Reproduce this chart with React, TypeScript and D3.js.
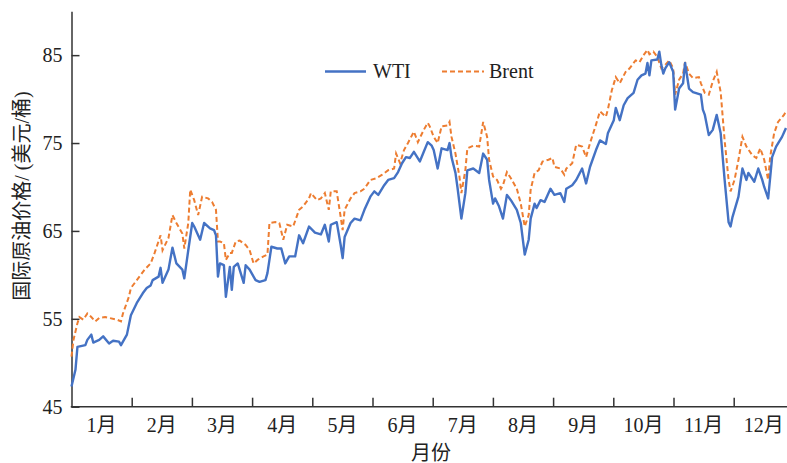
import React, { useEffect, useRef } from 'react';
import * as d3 from 'd3';

// month labels along the x axis
const months = ['1月', '2月', '3月', '4月', '5月', '6月', '7月', '8月', '9月', '10月', '11月', '12月'];
const yTicks = [45, 55, 65, 75, 85];

// WTI: day of year / price (USD per barrel)
const wtiDays = [0, 2, 3, 7, 8, 10, 11, 14, 16, 19, 21, 24, 25, 28, 30, 33, 36, 38, 40, 41, 44, 45, 46, 49, 51, 53, 56, 57, 59, 61,
  62, 65, 67, 70, 72, 73, 74, 75, 77, 78, 80, 81, 82, 84, 87, 88, 90, 93, 95, 98, 99, 101, 104, 106, 108, 110, 113, 115, 117, 120,
  123, 126, 128, 130, 131, 134, 136, 137, 138, 141, 143, 146, 148, 151, 153, 155, 158, 160, 163, 165, 167, 169, 171, 173, 176, 178,
  180, 182, 183, 185, 187, 190, 191, 192, 194, 195, 197, 199, 200, 203, 206, 208, 210, 211, 213, 214, 216, 218, 220, 222, 225, 227,
  229, 231, 232, 234, 235, 237, 239, 242, 244, 247, 249, 250, 253, 255, 258, 260, 262, 265, 267, 270, 271, 274, 275, 277, 279, 281,
  284, 286, 288, 290, 291, 292, 293, 296, 297, 298, 299, 300, 302, 304, 305, 307, 309, 310, 312, 314, 318, 319, 320, 322, 324, 326,
  328, 330, 332, 333, 334, 337, 339, 341, 342, 345, 347, 349, 350, 352, 354, 356, 359, 361];
const wtiPrice = [47.3, 49.2, 51.8, 52.0, 52.6, 53.2, 52.3, 52.6, 53.0, 52.2, 52.5, 52.4, 52.0, 53.2, 55.4, 56.8, 57.9, 58.5, 58.8, 59.4,
  59.8, 60.8, 59.1, 60.6, 63.1, 61.3, 60.6, 59.6, 62.8, 65.9, 65.5, 64.0, 65.9, 65.3, 65.1, 64.5, 59.8, 61.3, 61.1, 57.5,
  60.9, 58.3, 60.9, 61.3, 59.1, 61.1, 60.6, 59.4, 59.2, 59.4, 60.2, 63.2, 63.0, 63.0, 61.3, 62.1, 62.1, 64.5, 63.6, 65.5,
  64.8, 64.6, 65.7, 63.8, 65.7, 66.0, 63.4, 61.9, 64.3, 65.9, 66.4, 66.2, 67.4, 68.9, 69.5, 69.1, 70.2, 70.8, 71.0, 71.7,
  72.7, 73.4, 73.3, 74.0, 72.9, 74.0, 75.1, 74.7, 74.2, 72.1, 74.4, 74.2, 75.0, 73.4, 71.6, 70.0, 66.4, 69.3, 71.9, 72.1,
  71.6, 73.8, 73.1, 70.8, 68.1, 68.7, 67.8, 66.4, 69.1, 68.5, 67.4, 65.9, 62.3, 64.0, 66.4, 68.1, 67.6, 68.5, 68.3, 69.8,
  69.1, 69.3, 68.3, 69.8, 70.2, 70.8, 72.1, 70.4, 72.3, 74.2, 75.3, 74.9, 76.1, 77.6, 79.0, 77.6, 79.3, 80.1, 80.7, 82.2,
  82.7, 82.9, 84.1, 82.7, 84.4, 84.5, 85.4, 83.9, 82.9, 83.5, 84.2, 83.1, 78.8, 81.2, 81.8, 84.1, 81.2, 80.8, 80.5, 78.8,
  78.2, 75.9, 76.5, 78.2, 76.1, 70.8, 66.0, 65.5, 66.6, 68.9, 72.1, 70.8, 71.6, 70.6, 72.1, 70.8, 70.0, 68.7, 73.4, 74.6,
  75.7, 76.7];

// Brent
const brentDays = [0, 1, 3, 4, 6, 8, 10, 12, 14, 17, 19, 23, 25, 26, 29, 30, 33, 35, 37, 40, 42, 45, 46, 49, 51, 53, 56, 57, 59, 60,
  62, 64, 66, 69, 71, 73, 74, 75, 77, 78, 80, 81, 83, 85, 88, 90, 92, 94, 97, 99, 100, 103, 105, 107, 109, 112, 115, 117, 120, 121,
  124, 126, 128, 130, 131, 134, 136, 137, 138, 141, 143, 146, 148, 151, 154, 157, 160, 163, 164, 166, 168, 170, 173, 175, 178, 180,
  181, 183, 185, 187, 190, 191, 192, 194, 196, 197, 199, 200, 203, 206, 208, 210, 211, 213, 215, 217, 218, 220, 222, 225, 227, 229,
  231, 232, 234, 236, 238, 241, 243, 244, 247, 249, 250, 253, 255, 258, 260, 262, 265, 267, 270, 271, 273, 275, 277, 280, 282, 285,
  287, 289, 291, 292, 294, 296, 298, 300, 302, 304, 305, 307, 309, 310, 312, 314, 317, 318, 320, 322, 324, 326, 328, 330, 332, 333,
  335, 337, 339, 341, 344, 346, 348, 350, 352, 353, 355, 357, 360, 361];
const brentPrice = [50.7, 52.6, 54.5, 55.2, 54.9, 55.6, 55.2, 54.7, 55.1, 55.2, 55.1, 54.9, 54.7, 55.6, 57.5, 58.5, 59.4, 60.0, 60.6, 61.3,
  62.5, 64.5, 62.8, 64.2, 66.8, 65.9, 64.7, 63.0, 65.9, 69.7, 68.5, 66.8, 68.9, 68.7, 68.3, 67.4, 63.8, 63.8, 63.6, 61.7,
  62.5, 62.5, 63.8, 63.9, 63.4, 62.8, 61.3, 61.7, 62.1, 62.3, 65.9, 66.0, 65.9, 64.0, 65.7, 65.5, 67.4, 67.8, 68.7, 69.3,
  68.5, 68.7, 69.3, 67.4, 69.5, 69.5, 66.6, 65.1, 67.4, 68.7, 69.3, 69.5, 69.8, 70.8, 71.0, 71.4, 71.9, 72.1, 73.8, 72.7,
  74.2, 75.0, 76.3, 75.1, 76.5, 77.3, 76.9, 75.7, 75.0, 76.9, 77.0, 77.4, 75.7, 73.8, 71.2, 69.3, 71.9, 74.4, 74.7, 74.6,
  77.4, 75.7, 73.1, 71.2, 70.8, 69.8, 70.2, 71.7, 71.0, 69.8, 68.1, 65.5, 66.8, 69.7, 71.6, 71.9, 72.9, 73.1, 73.3, 72.3,
  72.1, 71.4, 72.1, 72.7, 74.8, 74.6, 73.4, 75.0, 77.1, 78.6, 78.0, 78.8, 81.0, 82.5, 81.8, 83.1, 83.5, 84.4, 84.2, 85.0,
  85.6, 85.1, 85.4, 84.8, 83.5, 83.9, 84.4, 83.5, 80.5, 82.2, 82.9, 84.2, 82.9, 82.4, 82.5, 81.8, 80.7, 80.5, 82.0, 83.1,
  80.8, 75.3, 70.8, 69.5, 70.8, 73.1, 75.7, 74.6, 73.6, 73.3, 74.4, 73.1, 70.8, 73.4, 76.1, 77.4, 78.2, 78.6];

const W = 787;
const H = 463;
const left = 71.5;
const bottom = 406.7;
const top = 11.2;
const font = '"Liberation Serif", "Times New Roman", "Noto Sans CJK SC", serif';

export default function App() {
  const svgRef = useRef<SVGSVGElement>(null);

  useEffect(() => {
    const svg = d3.select(svgRef.current);
    svg.selectAll('*').remove();

    const x = d3.scaleLinear().domain([0, 365]).range([left, left + 12 * 60.2]);
    const y = d3.scaleLinear().domain([45, 90]).range([bottom, top]);
    const monthLen = 365 / 12;

    // axes
    const yAxis = svg.append('g')
      .attr('transform', `translate(${left},0)`)
      .call(d3.axisLeft(y).tickValues(yTicks).tickSizeInner(-8).tickSizeOuter(0).tickPadding(9));
    yAxis.select('.domain').attr('stroke', '#333').attr('stroke-width', 1.5);
    yAxis.selectAll('.tick line').attr('stroke', '#333').attr('stroke-width', 1.5);
    yAxis.selectAll('.tick text')
      .attr('fill', '#222')
      .style('font-family', font)
      .style('font-size', '20px');

    const bounds = d3.range(1, 12).map(i => i * monthLen);
    const xAxis = svg.append('g')
      .attr('transform', `translate(0,${bottom})`)
      .call(d3.axisBottom(x).tickValues(bounds).tickSizeInner(-9).tickSizeOuter(0).tickFormat(() => ''));
    xAxis.select('.domain').remove();
    xAxis.selectAll('.tick line').attr('stroke', '#333').attr('stroke-width', 1.5);
    xAxis.append('line')
      .attr('x1', left - 0.75).attr('x2', W)
      .attr('stroke', '#333').attr('stroke-width', 1.5);

    svg.append('g')
      .selectAll('text')
      .data(months)
      .join('text')
      .attr('x', (d, i) => x((i + 0.5) * monthLen))
      .attr('y', 432)
      .attr('text-anchor', 'middle')
      .attr('fill', '#222')
      .style('font-family', font)
      .style('font-size', '20px')
      .text(d => d);

    // axis titles
    svg.append('text')
      .attr('x', 431)
      .attr('y', 460)
      .attr('text-anchor', 'middle')
      .attr('fill', '#222')
      .style('font-family', font)
      .style('font-size', '20px')
      .text('月份');

    svg.append('text')
      .attr('transform', 'translate(29,196) rotate(-90)')
      .attr('text-anchor', 'middle')
      .attr('fill', '#222')
      .style('font-family', font)
      .style('font-size', '20px')
      .text('国际原油价格/ (美元/桶)');

    // lines
    const line = d3.line<[number, number]>()
      .x(d => x(d[0]))
      .y(d => y(d[1]));

    const wti = wtiDays.map((d, i) => [d, wtiPrice[i]] as [number, number]);
    const brent = brentDays.map((d, i) => [d, brentPrice[i]] as [number, number]);

    svg.append('path')
      .datum(brent)
      .attr('d', line)
      .attr('fill', 'none')
      .attr('stroke', '#ED7D31')
      .attr('stroke-width', 2)
      .attr('stroke-dasharray', '5,3');

    svg.append('path')
      .datum(wti)
      .attr('d', line)
      .attr('fill', 'none')
      .attr('stroke', '#4472C4')
      .attr('stroke-width', 2.4)
      .attr('stroke-linejoin', 'round');

    // legend
    const legend = svg.append('g');
    legend.append('line')
      .attr('x1', 325).attr('x2', 366).attr('y1', 71.5).attr('y2', 71.5)
      .attr('stroke', '#4472C4').attr('stroke-width', 2.6);
    legend.append('text')
      .attr('x', 373).attr('y', 78)
      .attr('fill', '#222')
      .style('font-family', font)
      .style('font-size', '20px')
      .text('WTI');
    legend.append('line')
      .attr('x1', 442).attr('x2', 484).attr('y1', 71.5).attr('y2', 71.5)
      .attr('stroke', '#ED7D31').attr('stroke-width', 2.2)
      .attr('stroke-dasharray', '5,3');
    legend.append('text')
      .attr('x', 489).attr('y', 78)
      .attr('fill', '#222')
      .style('font-family', font)
      .style('font-size', '20px')
      .text('Brent');
  }, []);

  return (
    <svg
      ref={svgRef}
      width={W}
      height={H}
      style={{ position: 'absolute', left: 0, top: 0, background: '#fff' }}
    />
  );
}
